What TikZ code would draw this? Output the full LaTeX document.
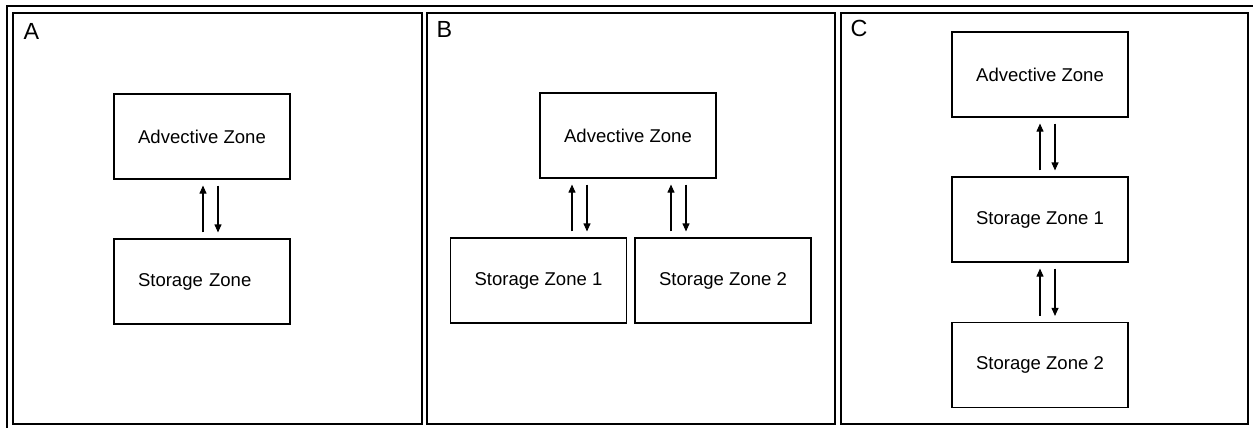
\documentclass[tikz,border=0pt]{standalone}
\usepackage{fontspec}
\setmainfont{Liberation Sans}
\usetikzlibrary{arrows.meta}
\begin{document}
\begin{tikzpicture}[x=0.75pt, y=-0.75pt, line width=0.8pt,
		zone/.style={draw, minimum width=132pt, minimum height=63.75pt, inner sep=0pt, font=\fontsize{13.9}{16}\selectfont},
		panel/.style={draw, line width=0.9pt},
		tag/.style={anchor=north west, inner sep=0pt, font=\fontsize{17.5}{20}\selectfont},
		flow/.style={-{Triangle[length=6pt, width=5.2pt]}, shorten <=4.5pt, shorten >=4.5pt}]
			\useasboundingbox (0, 0) rectangle (1253, 428);
			\draw[panel] (7, 428) -- (7, 6) -- (1253, 6);
			\draw[panel] (13, 13) rectangle (422, 424);
			\draw[panel] (427, 13) rectangle (835, 424);
			\draw[panel] (841, 13) rectangle (1248, 424);
			\node[tag] (la) at (23, 22.5) {A};
			\node[tag] (lb) at (436, 21) {B};
			\node[tag] (lc) at (850, 20) {C};
			% A
			\node[zone] (adva) at (202, 136.5) {Advective Zone};
			\node[zone, text width=96pt, inner xsep=18pt, align=left] (stoa) at (202, 281.5) {Storage Zone};
			\draw[flow] ([xshift=0.75pt]stoa.north) -- ([xshift=0.75pt]adva.south);
			\draw[flow] ([xshift=12pt]adva.south) -- ([xshift=12pt]stoa.north);
			% B
			\node[zone] (advb) at (628, 135.5) {Advective Zone};
			\node[zone] (stob1) at (538.5, 280.5) {Storage Zone 1};
			\node[zone] (stob2) at (723, 280.5) {Storage Zone 2};
			\draw[flow] ([xshift=-42pt]advb.south |- stob1.north) -- ([xshift=-42pt]advb.south);
			\draw[flow] ([xshift=-30.75pt]advb.south) -- ([xshift=-30.75pt]advb.south |- stob1.north);
			\draw[flow] ([xshift=32.25pt]advb.south |- stob2.north) -- ([xshift=32.25pt]advb.south);
			\draw[flow] ([xshift=43.5pt]advb.south) -- ([xshift=43.5pt]advb.south |- stob2.north);
			% C
			\node[zone] (advc) at (1040, 74.5) {Advective Zone};
			\node[zone] (stoc1) at (1040, 219.5) {Storage Zone 1};
			\node[zone] (stoc2) at (1040, 365) {Storage Zone 2};
			\draw[flow] (stoc1.north) -- (advc.south);
			\draw[flow] ([xshift=11.25pt]advc.south) -- ([xshift=11.25pt]stoc1.north);
			\draw[flow] (stoc2.north) -- (stoc1.south);
			\draw[flow] ([xshift=11.25pt]stoc1.south) -- ([xshift=11.25pt]stoc2.north);
		\end{tikzpicture}
\end{document}
